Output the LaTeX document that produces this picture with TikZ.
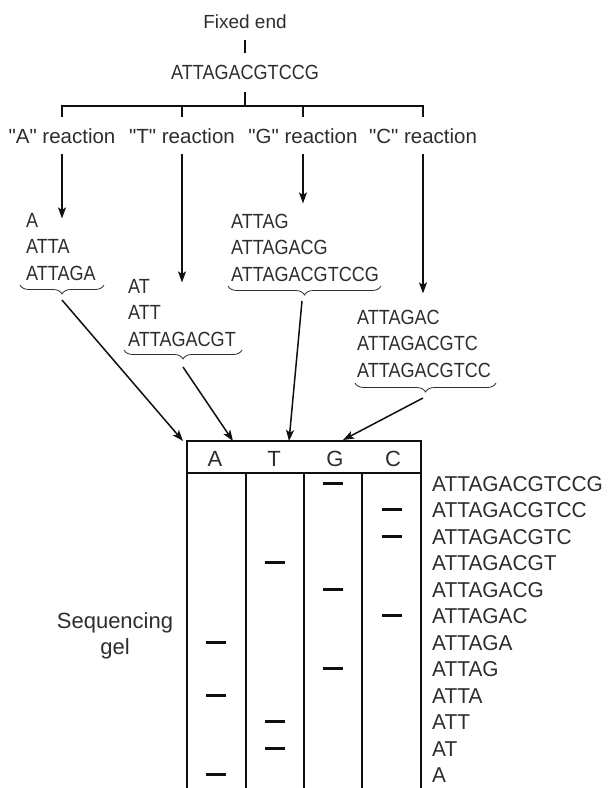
\documentclass[tikz,border=0pt]{standalone}
\usepackage{fontspec}
\setmainfont{Liberation Sans}
\newfontfamily\seqfont[FakeStretch=0.88]{Liberation Sans}
\newfontfamily\gelfont[FakeStretch=0.97]{Liberation Sans}
\usetikzlibrary{arrows.meta,decorations.pathreplacing}
\definecolor{TextClr}{RGB}{45,45,45}
\definecolor{LineClr}{RGB}{15,15,15}

\begin{document}
\begin{tikzpicture}[x=1pt,y=-1pt,
  every node/.style={inner sep=0pt,text=TextClr},
  word/.style={font=\fontsize{20.5}{24}\selectfont,anchor=base},
  seq/.style={font=\seqfont\fontsize{20.5}{24}\selectfont,anchor=base west},
  fragment/.style={font=\gelfont\fontsize{21.5}{26}\selectfont,anchor=base west},
  tree/.style={draw=LineClr,line width=1.6pt},
  feed/.style={draw=LineClr,line width=1.5pt,-{Stealth[length=11pt,width=8pt,inset=2.5pt]}},
  brace/.style={draw=TextClr,line width=0.8pt,decorate,decoration={brace,mirror,amplitude=9pt}},
  band/.style={draw=LineClr,line width=3pt}]
\useasboundingbox (0,0) rectangle (608,788);

% template and the four reactions
\node[word,font=\fontsize{19}{22}\selectfont] (fixed) at (245,28) {Fixed end};
\node[seq,anchor=base] (full) at (245,79) {ATTAGACGTCCG};
\draw[tree] ([yshift=-12pt]fixed.south) -- ([yshift=11pt]full.north);

\node[word] (rA) at (62,143) {\textquotedbl A\textquotedbl{} reaction};
\node[word] (rT) at (182,143) {\textquotedbl T\textquotedbl{} reaction};
\node[word] (rG) at (303,143) {\textquotedbl G\textquotedbl{} reaction};
\node[word] (rC) at (423,143) {\textquotedbl C\textquotedbl{} reaction};

\coordinate (split) at (245,106);
\draw[tree] ([yshift=-13pt]full.south) -- (split);
\foreach \r in {rA,rT,rG,rC}
  \draw[tree] (split) -| ([yshift=11pt]\r.north);

\draw[feed] ([yshift=-11pt]rA.south) -- ++(0,64);
\draw[feed] ([yshift=-11pt]rT.south) -- ++(0,128);
\draw[feed] ([yshift=-11pt]rG.south) -- ++(0,49);
\draw[feed] ([yshift=-11pt]rC.south) -- ++(0,139);

% fragments of each reaction
\foreach \s [count=\i] in {A,ATTA,ATTAGA}
  \node[seq] (a\i) at (26,{227+26.5*(\i-1)}) {\s};
\foreach \s [count=\i] in {AT,ATT,ATTAGACGT}
  \node[seq] (t\i) at (128,{293+26.5*(\i-1)}) {\s};
\foreach \s [count=\i] in {ATTAG,ATTAGACG,ATTAGACGTCCG}
  \node[seq] (g\i) at (231,{228+26.5*(\i-1)}) {\s};
\foreach \s [count=\i] in {ATTAGAC,ATTAGACGTC,ATTAGACGTCC}
  \node[seq] (c\i) at (357,{324+26.5*(\i-1)}) {\s};

\draw[brace] (20,285) -- (104,285);
\draw[brace] (124,350) -- (242,350);
\draw[brace] (228,286) -- (381,286);
\draw[brace] (355,383) -- (496,383);

\coordinate (tipA) at (62,300);
\coordinate (tipT) at (183,367);
\coordinate (tipG) at (302,301);
\coordinate (tipC) at (423,398);
\coordinate (slotA) at (183,441);
\coordinate (slotT) at (233,441);
\coordinate (slotG) at (289,441);
\coordinate (slotC) at (343,440);
\foreach \l in {A,T,G,C}
  \draw[feed] (tip\l) -- (slot\l);

% gel
\draw[draw=LineClr,line width=1.3pt] (187,441) rectangle (421,473);
\node[word,font=\fontsize{22}{26}\selectfont] (hA) at (215,466) {A};
\node[word,font=\fontsize{22}{26}\selectfont] (hT) at (274,466) {T};
\node[word,font=\fontsize{22}{26}\selectfont] (hG) at (335,466) {G};
\node[word,font=\fontsize{22}{26}\selectfont] (hC) at (393,466) {C};

\draw[tree] (187,473) -- (421,473);
\foreach \x in {187,246,304,362,421}
  \draw[tree] (\x,473) -- (\x,788);

\foreach \x [count=\i from 0] in {333,392,392,275,333,392,216,333,216,275,275,216}
  \draw[band] ({\x-10},{int(483+26.5*\i)+0.5}) -- ++(20,0);

\foreach \s [count=\i from 0] in {ATTAGACGTCCG,ATTAGACGTCC,ATTAGACGTC,ATTAGACGT,ATTAGACG,ATTAGAC,ATTAGA,ATTAG,ATTA,ATT,AT,A}
  \node[fragment] (f\i) at (432,{491+26.5*\i}) {\s};

\node[word,font=\fontsize{22}{26}\selectfont] (gel1) at (115,628) {Sequencing};
\node[word,font=\fontsize{22}{26}\selectfont] (gel2) at (115,654) {gel};

\end{tikzpicture}
\end{document}
